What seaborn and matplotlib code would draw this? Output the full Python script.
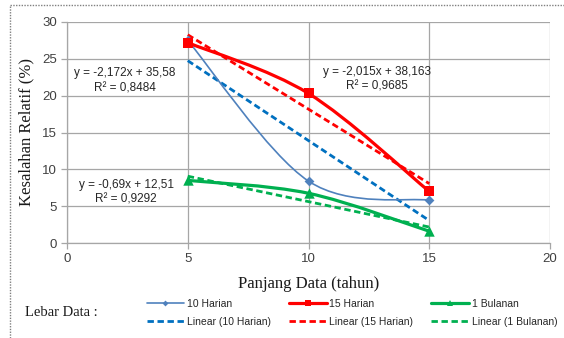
import numpy as np
import pandas as pd
import matplotlib
matplotlib.use("Agg")
import matplotlib.pyplot as plt
import seaborn as sns
from matplotlib.path import Path
from matplotlib.patches import PathPatch
from matplotlib.lines import Line2D

# ---- data ----
years = [5, 10, 15]
harian10 = [27.5, 8.4, 5.8]
harian15 = [27.2, 20.3, 7.0]
bulanan1 = [8.5, 6.75, 1.6]
series_names = ["10 Harian", "15 Harian", "1 Bulanan"]
eq_texts = ["y = -2,172x + 35,58\nR\u00b2 = 0,8484",
            "y = -2,015x + 38,163\nR\u00b2 = 0,9685",
            "y = -0,69x + 12,51\nR\u00b2 = 0,9292"]
eq_pos = [(2.4, 22.0), (12.85, 22.25), (2.45, 6.9)]
xticks = [0, 5, 10, 15, 20]
yticks = [0, 5, 10, 15, 20, 25, 30]

colors = ["#4F81BD", "#FF0000", "#00B050"]
trend_colors = ["#0070C0", "#FF0000", "#00B050"]
markers = ["D", "s", "^"]
msizes = [5, 6.5, 7.5]
lws = [1.2, 2.3, 2.3]

sns.set_theme(style="white")
plt.rcParams["font.family"] = ["Liberation Sans", "DejaVu Sans"]

fig = plt.figure(figsize=(5.64, 3.38), dpi=100)
ax = fig.add_axes([67/564, 1-243/338, (550-67)/564, (243-22)/338])

data = {"10 Harian": harian10, "15 Harian": harian15, "1 Bulanan": bulanan1}

def smooth_path(xs, ys):
    pts = np.column_stack([xs, ys]).astype(float)
    n = len(pts)
    verts = [pts[0]]
    codes = [Path.MOVETO]
    for i in range(n - 1):
        p_prev = pts[i - 1] if i > 0 else pts[i]
        p_next2 = pts[i + 2] if i + 2 < n else pts[i + 1]
        c1 = pts[i] + (pts[i + 1] - p_prev) / 6.0
        c2 = pts[i + 1] - (p_next2 - pts[i]) / 6.0
        verts += [c1, c2, pts[i + 1]]
        codes += [Path.CURVE4] * 3
    return Path(verts, codes)

handles_main = []
handles_trend = []
for i, name in enumerate(series_names):
    df = pd.DataFrame({"x": years, "y": data[name]})
    # trendline (linear)
    sns.regplot(data=df, x="x", y="y", ax=ax, scatter=False, ci=None,
                truncate=True,
                line_kws=dict(color=trend_colors[i], lw=2.0,
                              dashes=(2.3, 1.3), zorder=3))
    # smoothed series curve
    patch = PathPatch(smooth_path(df["x"], df["y"]), facecolor="none",
                      edgecolor=colors[i], lw=lws[i], zorder=4,
                      transform=ax.transData)
    ax.add_patch(patch)
    sns.scatterplot(data=df, x="x", y="y", ax=ax, marker=markers[i],
                    color=colors[i], s=msizes[i] ** 2, edgecolor=colors[i],
                    linewidth=0, zorder=5, legend=False)
    handles_main.append(Line2D([0], [0], color=colors[i], lw=lws[i],
                               marker=markers[i], markersize=msizes[i] * 0.6,
                               markeredgewidth=0))
    handles_trend.append(Line2D([0], [0], color=trend_colors[i], lw=2.0,
                                dashes=(2.3, 1.3)))

for txt, (tx, ty) in zip(eq_texts, eq_pos):
    ax.text(tx, ty, txt, ha="center", va="center", fontsize=8.5,
            color="#262626", linespacing=1.35, zorder=6)

ax.set_xlim(0, 20)
ax.set_ylim(0, 30)
ax.set_xticks(xticks)
ax.set_yticks(yticks)
ax.grid(True, color="#A6A6A6", lw=0.9)
ax.set_axisbelow(True)
for s in ["top", "right"]:
    ax.spines[s].set_visible(False)
for s in ["left", "bottom"]:
    ax.spines[s].set_color("#A6A6A6")
    ax.spines[s].set_linewidth(0.9)
ax.tick_params(axis="both", which="both", direction="out", length=4,
               width=0.9, color="#A6A6A6", labelsize=9.5,
               labelcolor="#404040", pad=3, left=True, bottom=True)
ax.set_xlabel("Panjang Data (tahun)", family=["Liberation Serif"],
              fontsize=12, color="#1a1a1a", labelpad=8)
ax.set_ylabel("Kesalahan Relatif (%)", family=["Liberation Serif"],
              fontsize=12, color="#1a1a1a", labelpad=6)

# legend
hl = []
ll = []
for i, name in enumerate(series_names):
    hl += [handles_main[i], handles_trend[i]]
    ll += [name, "Linear (%s)" % name]
leg = fig.legend(hl, ll, ncol=3, loc="center", bbox_to_anchor=(0.624, 0.074),
                 frameon=False, fontsize=7.5, handlelength=3.6,
                 handletextpad=0.25, columnspacing=1.75, labelspacing=0.75)
for t in leg.get_texts():
    t.set_color("#262626")
fig.text(25/564, 1-313/338, "Lebar Data :", family=["Liberation Serif"],
         fontsize=10.5, va="center", ha="left", color="#1a1a1a")

# outer dotted border
fig.add_artist(Line2D([10/564, 1], [1-5/338, 1-5/338], transform=fig.transFigure,
                      color="#808080", lw=1.0, linestyle=(0, (1, 1))))
fig.add_artist(Line2D([10/564, 10/564], [0, 1-5/338], transform=fig.transFigure,
                      color="#808080", lw=1.0, linestyle=(0, (1, 1))))

fig.savefig("out.png", dpi=100)
